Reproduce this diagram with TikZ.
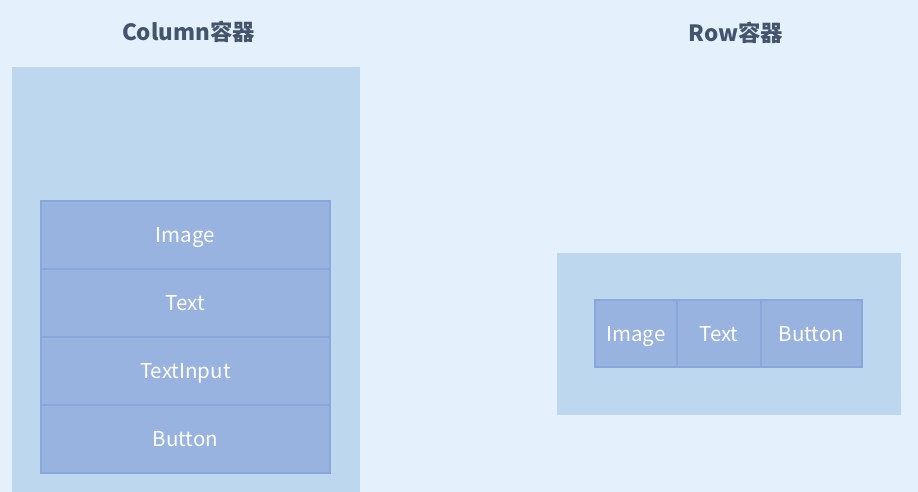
\documentclass[tikz,border=0pt]{standalone}
\usepackage{fontspec}
\setmainfont{Noto Sans CJK SC}
\definecolor{bgcol}{HTML}{E4F1FD}
\definecolor{outercol}{HTML}{BDD7EE}
\definecolor{cellcol}{HTML}{99B3E0}
\definecolor{celledge}{HTML}{88A7DA}
\definecolor{titlecol}{HTML}{44546A}

\begin{document}
\begin{tikzpicture}[x=1pt,y=-1pt,
   holder/.style={rectangle,fill=outercol,inner sep=0pt},
   cell/.style={rectangle,draw=celledge,fill=cellcol,line width=1.2pt,
    inner sep=0pt,text depth=0pt,text=white,font=\fontsize{20.5}{24}\selectfont},
   heading/.style={text=titlecol,font=\fontsize{22.4}{26}\selectfont\bfseries}
    ]

    % Background:
    \fill[bgcol] (0,0) rectangle (918,492);
    \useasboundingbox (0,0) rectangle (918,492);

    % Titles:
    \node[heading] at (188.5,32) (coltitle) {Column容器};
    \node[heading] at (736,33) (rowtitle) {Row容器};

    % Containers:
    \node[holder,minimum width=348pt,minimum height=425pt] at (186,279.5) (col) {};
    \node[holder,minimum width=344pt,minimum height=162pt] at (729,334) (row) {};

    % Column children:
    \node[cell,minimum width=289pt,minimum height=68pt] at (185.5,235) (c0) {Image};
    \node[cell,minimum width=289pt,minimum height=68pt] at (185.5,303) (c1) {Text};
    \node[cell,minimum width=289pt,minimum height=68pt] at (185.5,371) (c2) {TextInput};
    \node[cell,minimum width=289pt,minimum height=68pt] at (185.5,439) (c3) {Button};

    % Row children:
    \node[cell,minimum width=82pt,minimum height=67pt] at (636,333.5) (r0) {Image};
    \node[cell,minimum width=84pt,minimum height=67pt] at (719,333.5) (r1) {Text};
    \node[cell,minimum width=101pt,minimum height=67pt] at (811.5,333.5) (r2) {Button};

\end{tikzpicture}
\end{document}
